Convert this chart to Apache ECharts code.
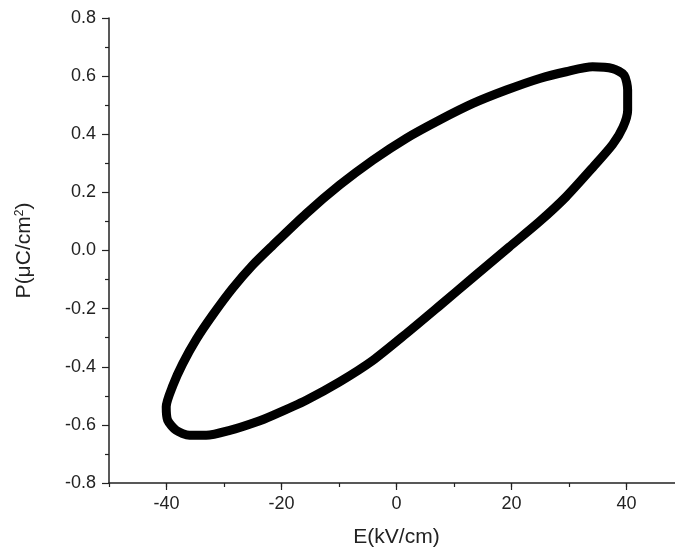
<!DOCTYPE html>
<html>
<head>
<meta charset="utf-8">
<script src="https://cdn.jsdelivr.net/npm/echarts@6/dist/echarts.min.js"></script>
<style>
  html, body { margin: 0; padding: 0; background: #fff; }
  #chart { width: 675px; height: 552px; }
</style>
</head>
<body>
<div id="chart"></div>
<script>
// P-E hysteresis loop: field E (kV/cm) and polarization P (uC/cm^2),
// traced once around the loop and closed back on the first point.
const fieldE = [
  40.2, 40.2, 39.6, 37.6, 34.1, 29.5, 24.9, 19.1, 13.3, 7.5, 1.7, -4.1,
  -9.9, -15.7, -21.5, -25.0, -28.5, -31.9, -34.8, -37.2, -38.9, -40.05,
  -39.8, -38.3, -36.0, -33.1, -29.0, -24.4, -21.5, -15.7, -9.9, -4.1,
  1.7, 7.5, 13.3, 19.6, 24.9, 29.5, 34.1, 37.6, 39.4, 40.2, 40.2
];
const polarP = [
  0.520, 0.552, 0.603, 0.626, 0.632, 0.615, 0.592, 0.552, 0.506, 0.449, 0.386, 0.311,
  0.225, 0.127, 0.018, -0.050, -0.130, -0.220, -0.305, -0.390, -0.465, -0.538,
  -0.584, -0.619, -0.636, -0.636, -0.619, -0.590, -0.567, -0.515, -0.452, -0.378,
  -0.286, -0.190, -0.093, 0.012, 0.100, 0.185, 0.285, 0.365, 0.425, 0.483, 0.520
];
const xMajorTicks = [-40, -20, 0, 20, 40];

const loop = fieldE.map((e, i) => [e, polarP[i]]);

const FONT = '"Liberation Sans", Arial, sans-serif';
const TXT = '#222';

const chart = echarts.init(document.getElementById('chart'), null, { renderer: 'canvas' });
chart.setOption({
  animation: false,
  backgroundColor: '#fff',
  grid: { left: 109, top: 18, width: 575, height: 465, outerBoundsMode: 'none', containLabel: false },
  xAxis: [
    {
      type: 'value', min: -50, max: 50, interval: 10,
      axisLine: { show: true, onZero: false, lineStyle: { color: '#222', width: 1.5 } },
      axisTick: { show: true, inside: false, length: 4, lineStyle: { color: '#222', width: 1.2 } },
      axisLabel: { show: false },
      splitLine: { show: false },
      name: 'E(kV/cm)', nameLocation: 'middle', nameGap: 44,
      nameTextStyle: { fontFamily: FONT, fontSize: 21, color: TXT }
    },
    {
      type: 'value', min: -50, max: 50, position: 'bottom',
      axisLine: { show: false, onZero: false },
      axisTick: { show: true, inside: false, length: 7, customValues: xMajorTicks,
                  lineStyle: { color: '#222', width: 1.2 } },
      axisLabel: { show: true, customValues: xMajorTicks, margin: 12,
                   fontFamily: FONT, fontSize: 18, color: TXT },
      splitLine: { show: false }
    }
  ],
  yAxis: {
    type: 'value', min: -0.8, max: 0.8, interval: 0.2,
    axisLine: { show: true, onZero: false, lineStyle: { color: '#222', width: 1.5 } },
    axisTick: { show: true, inside: false, length: 7, lineStyle: { color: '#222', width: 1.2 } },
    minorTick: { show: true, splitNumber: 2, length: 4, lineStyle: { color: '#222', width: 1.2 } },
    axisLabel: { margin: 13, fontFamily: FONT, fontSize: 18, color: TXT,
                 formatter: v => v.toFixed(1) },
    splitLine: { show: false },
    name: 'P(μC/cm{sup|2})', nameLocation: 'middle', nameGap: 74, nameRotate: 90,
    nameTextStyle: {
      fontFamily: FONT, fontSize: 21, color: TXT,
      rich: { sup: { fontFamily: FONT, fontSize: 12, color: TXT, verticalAlign: 'top', padding: [0, 0, 9, 0] } }
    }
  },
  series: [{
    type: 'line',
    xAxisIndex: 0,
    data: loop,
    showSymbol: false,
    symbol: 'none',
    smooth: 0.25,
    lineStyle: { color: '#000', width: 9, cap: 'round', join: 'round' },
    silent: true
  }]
});
</script>
</body>
</html>
